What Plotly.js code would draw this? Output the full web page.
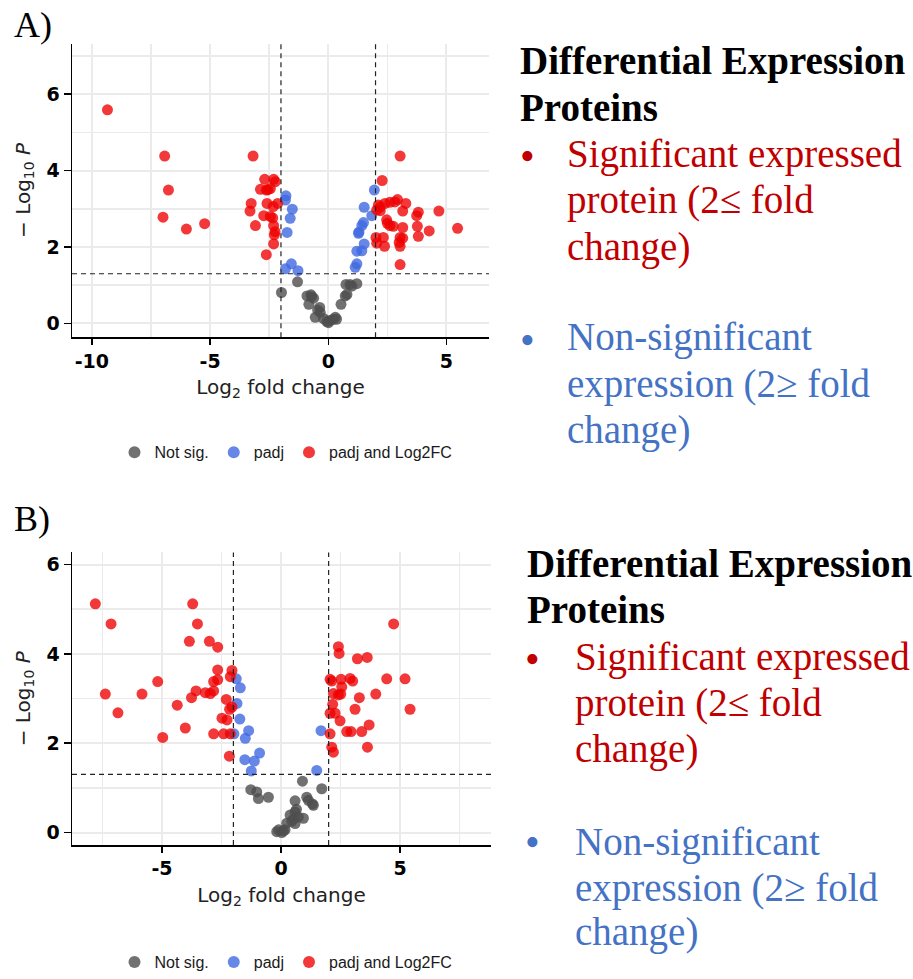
<!DOCTYPE html>
<html>
<head>
<meta charset="utf-8">
<script src="https://cdn.plot.ly/plotly-3.0.1.min.js"></script>
<style>html,body{margin:0;padding:0;background:#fff;}#chart{width:913px;height:979px;}</style>
</head>
<body>
<div id="chart"></div>
<script>
// ---------- Panel A data ----------
var aNotSigX = [-1.30,-1.98,-0.90,-0.73,-0.62,-0.82,-0.70,-0.36,-0.45,-0.34,-0.55,-0.20,-0.06,0.01,0.08,0.21,0.30,0.35,0.54,0.72,0.79,0.75,0.92,1.00,1.21];
var aNotSigY = [1.09,0.81,0.72,0.75,0.66,0.50,0.70,0.42,0.35,0.29,0.16,0.13,0.05,0.02,0.08,0.11,0.16,0.11,0.50,0.72,0.76,1.02,1.02,0.98,1.04];
var aPadjX = [-1.79,-1.81,-1.52,-1.61,-1.74,-1.56,-1.81,-1.28,1.95,1.52,1.84,1.42,1.28,1.49,1.52,1.21,1.42,1.21,1.14,1.30];
var aPadjY = [3.34,3.23,2.99,2.75,2.38,1.56,1.43,1.38,3.49,3.04,2.82,2.56,2.36,2.64,2.08,1.89,1.90,1.56,1.47,2.39];
var aBothX = [-9.34,-6.92,-6.76,-6.99,-6.00,-5.23,-3.18,-2.69,-2.31,-2.24,-2.87,-2.62,-2.45,-2.55,
              -3.26,-3.31,-2.59,-2.33,-2.14,-2.73,-2.45,-2.35,-3.08,-2.31,-2.28,-2.25,-2.31,-2.62,
              3.04,2.28,2.12,2.40,2.61,2.82,2.93,3.28,2.05,3.15,3.81,3.74,4.68,2.47,2.61,2.75,3.15,3.77,4.27,5.47,
              2.02,2.33,3.04,3.15,3.81,2.05,2.38,3.04,3.04,2.20,2.50,3.00,2.20];
var aBothY = [5.59,4.38,3.49,2.78,2.47,2.61,4.38,3.77,3.77,3.71,3.51,3.49,3.53,3.50,
              3.14,2.94,3.14,3.06,3.14,2.82,2.80,2.76,2.56,2.56,2.32,2.40,2.08,1.80,
              4.38,3.74,3.10,3.14,3.17,3.18,3.24,3.14,2.97,2.94,2.91,2.82,2.94,2.71,2.56,2.54,2.51,2.54,2.42,2.49,
              2.25,2.25,2.25,2.23,2.28,2.10,2.02,2.02,1.54,3.05,2.62,2.12,2.95];

// ---------- Panel B data ----------
var bNotSigX = [-1.27,-1.02,-0.95,-0.53,0.90,1.71,0.59,1.08,1.15,1.36,0.38,0.59,0.73,0.94,0.52,0.59,0.24,-0.18,0.03,0.17,-0.10,0.10,0.45,0.65,1.32];
var bNotSigY = [0.96,0.91,0.76,0.79,1.15,0.98,0.71,0.79,0.72,0.61,0.39,0.46,0.35,0.32,0.30,0.20,0.21,0.02,0.00,0.06,0.06,0.04,0.25,0.52,0.64];
var bPadjX = [-1.88,-1.71,-1.85,-1.73,-1.98,-1.36,-1.50,-0.90,-1.52,-1.12,-1.25,1.68,1.50];
var bPadjY = [3.44,3.24,2.89,2.54,2.21,2.28,2.11,1.78,1.63,1.60,1.38,2.28,1.39];
var bBothX = [-7.80,-7.14,-3.71,-3.51,-3.85,-3.01,-2.66,-2.66,-2.06,-2.13,-2.66,-2.83,-5.18,-7.38,-5.84,-3.57,-3.76,-3.18,-2.97,-2.83,
              -4.36,-6.85,-2.30,-2.16,-2.06,-2.48,-2.27,-4.02,-4.97,-2.83,-2.41,-2.13,-2.17,
              4.73,2.41,2.44,3.21,3.62,2.06,2.13,2.52,2.90,3.01,4.44,5.21,2.55,2.20,2.41,2.51,3.29,3.98,2.17,3.11,5.42,
              2.06,2.27,2.48,3.70,2.76,2.94,3.39,2.06,2.13,2.20,3.63];
var bBothY = [5.12,4.67,5.12,4.67,4.28,4.28,4.15,3.64,3.63,3.49,3.42,3.38,3.38,3.10,3.10,3.17,3.02,3.13,3.11,3.17,
              2.85,2.68,2.98,2.76,2.81,2.56,2.52,2.34,2.13,2.21,2.21,2.21,1.71,
              4.67,4.16,4.01,3.89,3.92,3.43,3.39,3.43,3.45,3.39,3.44,3.44,3.26,3.11,3.08,3.10,3.02,3.10,2.87,2.76,2.76,
              2.67,2.67,2.50,2.41,2.26,2.26,2.26,2.21,1.91,1.80,1.91];

// thresholds
var fcCutoff = [-2, 2];
var pCutoff = 1.3;

// ticks
var aXTickVals = [-10, -5, 0, 5];
var aXTickText = ['-10', '-5', '0', '5'];
var bXTickVals = [-5, 0, 5];
var bXTickText = ['-5', '0', '5'];
var yTickVals = [0, 2, 4, 6];
var yTickText = ['0', '2', '4', '6'];

var seriesNames = ['Not sig.', 'padj', 'padj and Log2FC'];
var seriesColors = ['rgba(77,77,77,0.8)', 'rgba(65,105,225,0.8)', 'rgba(238,0,0,0.78)'];

// side text
var headerLines = ['Differential Expression', 'Proteins'];
var sigLines = ['Significant expressed', 'protein (2\u2264 fold', 'change)'];
var nonSigLines = ['Non-significant', 'expression (2\u2265 fold', 'change)'];

var W = 913, H = 979;
function px(x){ return x / W; }
function py(y){ return 1 - y / H; }

function mk(x, y, i, xa, ya, leg) {
  return {
    type: 'scatter', mode: 'markers', x: x, y: y, name: seriesNames[i],
    xaxis: xa, yaxis: ya, legend: leg, showlegend: true,
    marker: {size: 11, color: seriesColors[i], line: {width: 0}},
    hoverinfo: 'x+y'
  };
}

var traces = [
  mk(aNotSigX, aNotSigY, 0, 'x', 'y', 'legend'),
  mk(aPadjX, aPadjY, 1, 'x', 'y', 'legend'),
  mk(aBothX, aBothY, 2, 'x', 'y', 'legend'),
  mk(bNotSigX, bNotSigY, 0, 'x2', 'y2', 'legend2'),
  mk(bPadjX, bPadjY, 1, 'x2', 'y2', 'legend2'),
  mk(bBothX, bBothY, 2, 'x2', 'y2', 'legend2')
];

var tickFont = {family: 'DejaVu Sans', size: 19, color: '#000', weight: 700};
var titleFont = {family: 'DejaVu Sans', size: 20, color: '#222'};
var grid = '#EBEBEB';

function xax(domain, range, tv, tt, anchor) {
  return {
    domain: domain, range: range, anchor: anchor,
    tickvals: tv, ticktext: tt, tickfont: tickFont,
    showgrid: true, gridcolor: grid, gridwidth: 2,
    minor: {dtick: 2.5, showgrid: true, gridcolor: grid, gridwidth: 1.5, ticks: ''},
    zeroline: false, showline: true, linecolor: '#000', linewidth: 1.5,
    ticks: 'outside', ticklen: 6, tickwidth: 1.5, tickcolor: '#000',
    title: {text: 'Log<sub>2</sub> fold change', font: titleFont, standoff: 9},
    automargin: false, fixedrange: true
  };
}
function yax(domain, range, anchor) {
  return {
    domain: domain, range: range, anchor: anchor,
    tickvals: yTickVals, ticktext: yTickText, tickfont: tickFont,
    showgrid: true, gridcolor: grid, gridwidth: 2,
    minor: {dtick: 1, showgrid: true, gridcolor: grid, gridwidth: 1.5, ticks: ''},
    zeroline: false, showline: true, linecolor: '#000', linewidth: 1.5,
    ticks: 'outside', ticklen: 7, tickwidth: 1.5, tickcolor: '#000',
    title: {text: '\u2212 Log<sub>10</sub> <i>P</i>', font: titleFont, standoff: 10},
    automargin: false, fixedrange: true
  };
}

var shapes = [];
function thresholdShapes(xr, yr) {
  fcCutoff.forEach(function(v){
    shapes.push({type: 'line', xref: xr, yref: yr + ' domain', x0: v, x1: v, y0: 0, y1: 1,
                 line: {color: '#222', width: 1.2, dash: '5px,4px'}});
  });
  shapes.push({type: 'line', xref: xr + ' domain', yref: yr, x0: 0, x1: 1, y0: pCutoff, y1: pCutoff,
               line: {color: '#222', width: 1.2, dash: '5px,4px'}});
}
thresholdShapes('x', 'y');
thresholdShapes('x2', 'y2');

var annotations = [];
function txt(text, x, ymid, size, color, isBold, anchor) {
  annotations.push({
    xref: 'paper', yref: 'paper', x: px(x), y: py(ymid), xanchor: anchor || 'left', yanchor: 'middle',
    text: isBold ? '<b>' + text + '</b>' : text, showarrow: false,
    font: {family: 'Liberation Serif', size: size, color: color}
  });
}
txt('A)', 12, 25, 36, '#000', false);
txt('B)', 12, 523, 36, '#000', false);

function sideBlock(hx, tx, bx, hMids, sMids, nMids, sBullet, nBullet) {
  headerLines.forEach(function(t, i){ txt(t, hx, hMids[i], 39, '#000', true); });
  sigLines.forEach(function(t, i){ txt(t, tx, sMids[i], 39, '#C00000', false); });
  nonSigLines.forEach(function(t, i){ txt(t, tx, nMids[i], 39, '#4472C4', false); });
  txt('\u2022', bx, sBullet, 42, '#C00000', false, 'center');
  txt('\u2022', bx, nBullet, 42, '#4472C4', false, 'center');
}
sideBlock(518, 565, 527, [62, 108], [155, 202, 249], [340, 387, 434], 157, 343);
sideBlock(525, 573, 532, [569, 615], [662, 709, 755], [849, 895, 940], 664, 849);

var legendFont = {family: 'Liberation Sans', size: 16, color: '#1a1a1a'};
function legendCfg(y) {
  return {orientation: 'h', x: px(286), xanchor: 'center', y: py(y), yanchor: 'middle',
          font: legendFont, bgcolor: 'rgba(0,0,0,0)', itemsizing: 'constant',
          itemclick: false, itemdoubleclick: false, tracegroupgap: 0};
}
var layout = {
  width: W, height: H,
  margin: {l: 0, r: 0, t: 0, b: 0},
  paper_bgcolor: '#fff', plot_bgcolor: '#fff',
  xaxis: xax([px(72), px(489)], [-10.84, 6.8], aXTickVals, aXTickText, 'y'),
  yaxis: yax([py(340), py(44)], [-0.36, 7.32], 'x'),
  xaxis2: xax([px(72), px(491)], [-8.78, 8.82], bXTickVals, bXTickText, 'y2'),
  yaxis2: yax([py(852), py(557)], [-0.28, 6.27], 'x2'),
  legend: legendCfg(456),
  legend2: legendCfg(970),
  shapes: shapes,
  annotations: annotations,
  showlegend: true
};

Plotly.newPlot('chart', traces, layout, {displayModeBar: false, staticPlot: true});
</script>
</body>
</html>
